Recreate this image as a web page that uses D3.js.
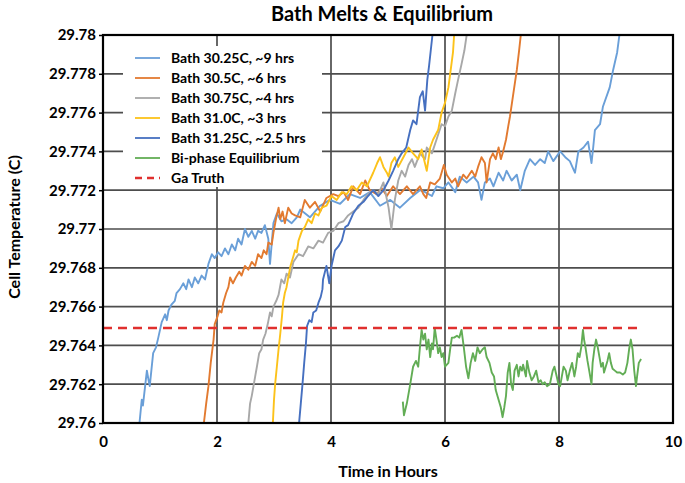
<!DOCTYPE html>
<html lang="en">
<head>
<meta charset="UTF-8">
<title>Bath Melts & Equilibrium</title>
<script src="https://cdn.jsdelivr.net/npm/d3@7"></script>
<style>
  body { margin: 0; background: #fff; }
  text { font-family: Lato, "Open Sans", sans-serif; font-weight: bold; fill: #000; }
</style>
</head>
<body>
<svg id="chart"></svg>
<script>
var xTicks = [0, 2, 4, 6, 8, 10];
var yTicks = [29.76, 29.762, 29.764, 29.766, 29.768, 29.77, 29.772, 29.774, 29.776, 29.778, 29.78];
var seriesNames = ['Bath 30.25C, ~9 hrs', 'Bath 30.5C, ~6 hrs', 'Bath 30.75C, ~4 hrs',
  'Bath 31.0C, ~3 hrs', 'Bath 31.25C, ~2.5 hrs', 'Bi-phase Equilibrium', 'Ga Truth'];
var seriesColors = ['#6a9fd8', '#e27a30', '#a8a8a8', '#fcc21a', '#4670c0', '#62ad55', '#e0302e'];

// [hours, cell temperature C]
var bath3025 = [[0.64,29.7600],[0.68,29.7612],[0.70,29.7609],[0.77,29.7627],[0.80,29.7622],[0.82,29.7619],
  [0.88,29.7636],[0.93,29.7639],[0.97,29.7644],[1.03,29.7652],[1.09,29.7656],[1.12,29.7653],[1.15,29.7658],
  [1.20,29.7661],[1.26,29.7663],[1.29,29.7667],[1.35,29.7669],[1.41,29.7672],[1.46,29.7669],[1.50,29.7674],
  [1.56,29.7670],[1.61,29.7675],[1.67,29.7672],[1.73,29.7676],[1.79,29.7674],[1.85,29.7682],[1.91,29.7687],
  [1.96,29.7685],[2.02,29.7688],[2.08,29.7686],[2.14,29.7690],[2.20,29.7687],[2.26,29.7692],[2.32,29.7689],
  [2.37,29.7695],[2.43,29.7692],[2.49,29.7700],[2.55,29.7696],[2.61,29.7699],[2.67,29.7695],[2.72,29.7699],
  [2.78,29.7698],[2.84,29.7702],[2.90,29.7695],[2.93,29.7682],[2.99,29.7703],[3.05,29.7708],[3.13,29.7704],
  [3.22,29.7705],[3.31,29.7703],[3.40,29.7706],[3.46,29.7710],[3.63,29.7706],[3.81,29.7712],[3.98,29.7715],
  [4.16,29.7713],[4.33,29.7718],[4.51,29.7716],[4.68,29.7719],[4.86,29.7712],[5.04,29.7715],[5.21,29.7711],
  [5.39,29.7716],[5.56,29.7720],[5.65,29.7719],[5.77,29.7717],[5.85,29.7722],[5.97,29.7721],[6.06,29.7724],
  [6.18,29.7719],[6.26,29.7727],[6.38,29.7724],[6.50,29.7727],[6.58,29.7724],[6.64,29.7715],[6.70,29.7724],
  [6.79,29.7726],[6.85,29.7722],[6.94,29.7729],[7.02,29.7725],[7.08,29.7730],[7.17,29.7725],[7.26,29.7728],
  [7.32,29.7720],[7.40,29.7730],[7.49,29.7736],[7.58,29.7733],[7.67,29.7736],[7.75,29.7734],[7.81,29.7740],
  [7.90,29.7735],[8.02,29.7740],[8.11,29.7737],[8.19,29.7735],[8.25,29.7731],[8.28,29.7729],[8.34,29.7740],
  [8.43,29.7742],[8.51,29.7745],[8.57,29.7734],[8.60,29.7742],[8.63,29.7751],[8.72,29.7754],[8.77,29.7763],
  [8.89,29.7773],[8.95,29.7782],[9.02,29.7791],[9.06,29.7800]];

var bath305 = [[1.77,29.7600],[1.81,29.7610],[1.85,29.7619],[1.89,29.7631],[1.94,29.7643],[1.96,29.7651],
  [2.01,29.7655],[2.04,29.7658],[2.08,29.7657],[2.11,29.7662],[2.16,29.7667],[2.20,29.7670],[2.23,29.7675],
  [2.28,29.7672],[2.33,29.7675],[2.39,29.7678],[2.43,29.7676],[2.49,29.7681],[2.55,29.7679],[2.61,29.7683],
  [2.67,29.7681],[2.72,29.7687],[2.78,29.7685],[2.82,29.7689],[2.87,29.7687],[2.90,29.7693],[2.96,29.7692],
  [2.99,29.7698],[3.04,29.7706],[3.08,29.7711],[3.11,29.7705],[3.15,29.7709],[3.19,29.7703],[3.25,29.7711],
  [3.31,29.7708],[3.37,29.7707],[3.46,29.7706],[3.54,29.7715],[3.63,29.7711],[3.72,29.7714],[3.81,29.7709],
  [3.92,29.7716],[4.04,29.7718],[4.13,29.7717],[4.22,29.7719],[4.30,29.7715],[4.39,29.7722],[4.51,29.7718],
  [4.60,29.7725],[4.68,29.7720],[4.80,29.7718],[4.89,29.7721],[4.98,29.7717],[5.09,29.7722],[5.21,29.7718],
  [5.33,29.7722],[5.44,29.7718],[5.56,29.7722],[5.62,29.7718],[5.67,29.7716],[5.74,29.7724],[5.82,29.7723],
  [5.91,29.7726],[5.98,29.7733],[6.03,29.7728],[6.12,29.7724],[6.18,29.7726],[6.23,29.7722],[6.32,29.7728],
  [6.38,29.7726],[6.47,29.7730],[6.53,29.7727],[6.58,29.7732],[6.64,29.7737],[6.70,29.7734],[6.73,29.7724],
  [6.79,29.7736],[6.84,29.7739],[6.89,29.7736],[6.94,29.7742],[6.98,29.7736],[7.02,29.7740],[7.07,29.7746],
  [7.11,29.7753],[7.14,29.7758],[7.20,29.7770],[7.26,29.7782],[7.30,29.7792],[7.33,29.7800]];

var bath3075 = [[2.55,29.7600],[2.58,29.7610],[2.61,29.7614],[2.64,29.7619],[2.67,29.7624],[2.70,29.7629],
  [2.74,29.7636],[2.78,29.7638],[2.81,29.7643],[2.85,29.7646],[2.89,29.7651],[2.93,29.7657],[2.96,29.7655],
  [2.99,29.7660],[3.04,29.7663],[3.08,29.7666],[3.13,29.7674],[3.18,29.7672],[3.22,29.7677],[3.28,29.7675],
  [3.34,29.7683],[3.43,29.7687],[3.51,29.7686],[3.60,29.7691],[3.69,29.7690],[3.78,29.7694],[3.86,29.7693],
  [3.95,29.7698],[4.04,29.7699],[4.13,29.7703],[4.22,29.7704],[4.30,29.7707],[4.39,29.7709],[4.48,29.7711],
  [4.57,29.7715],[4.65,29.7718],[4.74,29.7720],[4.83,29.7718],[4.92,29.7724],[5.01,29.7711],[5.06,29.7700],
  [5.12,29.7715],[5.18,29.7725],[5.24,29.7730],[5.30,29.7727],[5.36,29.7733],[5.42,29.7736],[5.47,29.7732],
  [5.56,29.7739],[5.65,29.7736],[5.68,29.7742],[5.77,29.7739],[5.85,29.7746],[5.94,29.7754],[6.00,29.7753],
  [6.06,29.7758],[6.12,29.7761],[6.18,29.7770],[6.23,29.7777],[6.29,29.7785],[6.34,29.7792],[6.38,29.7800]];

var bath310 = [[2.98,29.7600],[3.00,29.7612],[3.02,29.7620],[3.05,29.7629],[3.08,29.7638],[3.11,29.7646],
  [3.14,29.7655],[3.16,29.7662],[3.19,29.7667],[3.22,29.7670],[3.25,29.7675],[3.29,29.7681],[3.34,29.7686],
  [3.37,29.7689],[3.40,29.7688],[3.43,29.7694],[3.49,29.7699],[3.54,29.7701],[3.60,29.7705],[3.66,29.7703],
  [3.72,29.7708],[3.78,29.7707],[3.84,29.7711],[3.92,29.7712],[4.01,29.7717],[4.10,29.7715],[4.19,29.7719],
  [4.28,29.7718],[4.36,29.7722],[4.45,29.7720],[4.54,29.7724],[4.63,29.7722],[4.74,29.7729],[4.81,29.7734],
  [4.86,29.7737],[4.92,29.7732],[4.98,29.7729],[5.01,29.7727],[5.06,29.7734],[5.12,29.7737],[5.18,29.7732],
  [5.27,29.7737],[5.36,29.7742],[5.44,29.7739],[5.53,29.7736],[5.59,29.7741],[5.68,29.7730],[5.74,29.7742],
  [5.79,29.7746],[5.88,29.7751],[5.94,29.7760],[6.00,29.7765],[6.06,29.7773],[6.10,29.7782],[6.14,29.7791],
  [6.16,29.7800]];

var bath3125 = [[3.44,29.7600],[3.47,29.7610],[3.50,29.7620],[3.53,29.7631],[3.56,29.7641],[3.58,29.7650],
  [3.62,29.7653],[3.66,29.7652],[3.69,29.7657],[3.74,29.7658],[3.78,29.7662],[3.82,29.7665],[3.85,29.7669],
  [3.86,29.7674],[3.92,29.7681],[3.97,29.7672],[4.01,29.7681],[4.07,29.7689],[4.13,29.7691],[4.19,29.7694],
  [4.25,29.7701],[4.30,29.7702],[4.36,29.7706],[4.39,29.7708],[4.48,29.7712],[4.57,29.7714],[4.65,29.7717],
  [4.74,29.7720],[4.83,29.7717],[4.92,29.7720],[5.01,29.7725],[5.09,29.7730],[5.18,29.7736],[5.24,29.7739],
  [5.32,29.7742],[5.39,29.7751],[5.44,29.7756],[5.50,29.7754],[5.56,29.7768],[5.61,29.7771],[5.65,29.7761],
  [5.69,29.7777],[5.72,29.7784],[5.75,29.7792],[5.78,29.7800]];

var biphase = [[5.26,29.7611],[5.28,29.7604],[5.33,29.7610],[5.39,29.7620],[5.44,29.7629],[5.49,29.7632],
  [5.53,29.7629],[5.56,29.7639],[5.59,29.7648],[5.62,29.7643],[5.65,29.7646],[5.68,29.7638],[5.71,29.7643],
  [5.74,29.7634],[5.77,29.7641],[5.79,29.7638],[5.82,29.7649],[5.85,29.7643],[5.88,29.7636],[5.91,29.7639],
  [5.94,29.7634],[5.97,29.7636],[6.00,29.7629],[6.06,29.7631],[6.09,29.7638],[6.12,29.7644],[6.16,29.7644],
  [6.21,29.7645],[6.25,29.7644],[6.29,29.7648],[6.33,29.7639],[6.37,29.7629],[6.41,29.7623],[6.45,29.7631],
  [6.49,29.7636],[6.53,29.7632],[6.57,29.7639],[6.61,29.7636],[6.66,29.7638],[6.70,29.7639],[6.73,29.7634],
  [6.78,29.7631],[6.82,29.7626],[6.86,29.7624],[6.89,29.7617],[6.94,29.7612],[6.98,29.7608],[7.01,29.7603],
  [7.04,29.7608],[7.07,29.7614],[7.10,29.7626],[7.13,29.7631],[7.16,29.7620],[7.19,29.7617],[7.22,29.7627],
  [7.26,29.7630],[7.29,29.7624],[7.32,29.7629],[7.35,29.7627],[7.37,29.7630],[7.42,29.7624],[7.44,29.7632],
  [7.48,29.7626],[7.52,29.7622],[7.56,29.7624],[7.60,29.7627],[7.64,29.7621],[7.68,29.7622],[7.71,29.7620],
  [7.75,29.7621],[7.79,29.7619],[7.84,29.7620],[7.89,29.7627],[7.92,29.7629],[7.96,29.7624],[7.99,29.7620],
  [8.02,29.7619],[8.05,29.7624],[8.08,29.7629],[8.12,29.7627],[8.15,29.7622],[8.19,29.7627],[8.23,29.7631],
  [8.27,29.7624],[8.30,29.7629],[8.33,29.7636],[8.36,29.7634],[8.39,29.7639],[8.42,29.7648],[8.44,29.7643],
  [8.47,29.7638],[8.50,29.7632],[8.53,29.7627],[8.57,29.7620],[8.59,29.7631],[8.62,29.7638],[8.65,29.7643],
  [8.68,29.7639],[8.71,29.7634],[8.74,29.7629],[8.77,29.7631],[8.79,29.7626],[8.82,29.7629],[8.85,29.7632],
  [8.88,29.7636],[8.91,29.7631],[8.94,29.7628],[8.98,29.7627],[9.02,29.7626],[9.07,29.7626],[9.12,29.7625],
  [9.16,29.7626],[9.20,29.7631],[9.23,29.7638],[9.26,29.7643],[9.29,29.7638],[9.32,29.7627],[9.35,29.7619],
  [9.37,29.7624],[9.40,29.7631],[9.44,29.7633]];

var gaTruth = [[0, 29.7649], [9.45, 29.7649]];

var allSeries = [bath3025, bath305, bath3075, bath310, bath3125, biphase, gaTruth];

var width = 685, height = 483;
var margin = {top: 35, right: 12, bottom: 60, left: 103};
var plotW = width - margin.left - margin.right;
var plotH = height - margin.top - margin.bottom;

var svg = d3.select('#chart').attr('width', width).attr('height', height);

var x = d3.scaleLinear().domain([0, 10]).range([0, plotW]);
var y = d3.scaleLinear().domain([29.76, 29.78]).range([plotH, 0]);

svg.append('text')
  .attr('x', margin.left + plotW / 2 - 6)
  .attr('y', 21)
  .attr('text-anchor', 'middle')
  .style('font-size', '20px')
  .text('Bath Melts & Equilibrium');

var g = svg.append('g').attr('transform', 'translate(' + margin.left + ',' + margin.top + ')');

g.append('clipPath').attr('id', 'clip')
  .append('rect').attr('width', plotW).attr('height', plotH);

// gridlines
g.selectAll('.hgrid').data(yTicks).enter().append('line')
  .attr('x1', 0).attr('x2', plotW)
  .attr('y1', function(d) { return y(d); }).attr('y2', function(d) { return y(d); })
  .attr('stroke', '#4d4d4d').attr('stroke-width', 1.7);
g.selectAll('.vgrid').data(xTicks).enter().append('line')
  .attr('y1', 0).attr('y2', plotH)
  .attr('x1', function(d) { return x(d); }).attr('x2', function(d) { return x(d); })
  .attr('stroke', '#4d4d4d').attr('stroke-width', 1.7);

// axes
var yAxis = d3.axisLeft(y).tickValues(yTicks).tickSize(4).tickPadding(3).tickFormat(d3.format('.3~f'));
var xAxis = d3.axisBottom(x).tickValues(xTicks).tickSize(0).tickPadding(13).tickFormat(d3.format('d'));
var ya = g.append('g').call(yAxis);
var xa = g.append('g').attr('transform', 'translate(0,' + plotH + ')').call(xAxis);
[ya, xa].forEach(function(a) {
  a.select('.domain').remove();
  a.selectAll('line').attr('stroke', '#000').attr('stroke-width', 1.5);
  a.selectAll('text').style('font-size', '15px').style('font-family', 'Lato, sans-serif').attr('fill', '#000');
});

// legend box (drawn before data, over gridlines)
var legX = 20, legY = 11, legW = 199, legH = 141;
g.append('rect').attr('x', legX).attr('y', legY).attr('width', legW).attr('height', legH).attr('fill', '#fff');

var line = d3.line()
  .x(function(d) { return x(d[0]); })
  .y(function(d) { return y(d[1]); });

var plot = g.append('g').attr('clip-path', 'url(#clip)');
allSeries.forEach(function(s, i) {
  var p = plot.append('path')
    .datum(s)
    .attr('d', line)
    .attr('fill', 'none')
    .attr('stroke', seriesColors[i])
    .attr('stroke-width', i === 6 ? 2.6 : 1.9)
    .attr('stroke-linejoin', 'round');
  if (i === 6) p.attr('stroke-dasharray', '9,6');
});

// legend entries
var leg = g.selectAll('.leg').data(seriesNames).enter().append('g')
  .attr('transform', function(d, i) { return 'translate(' + (legX + 12) + ',' + (legY + 12 + i * 20) + ')'; });
leg.append('line')
  .attr('x1', 0).attr('x2', 25).attr('y1', 0).attr('y2', 0)
  .attr('stroke', function(d, i) { return seriesColors[i]; })
  .attr('stroke-width', function(d, i) { return i === 6 ? 2.6 : 1.8; })
  .attr('stroke-dasharray', function(d, i) { return i === 6 ? '7,5' : null; });
leg.append('text')
  .attr('x', 36).attr('y', 5)
  .style('font-size', '14px')
  .text(function(d) { return d; });

// plot border
g.append('rect').attr('width', plotW).attr('height', plotH)
  .attr('fill', 'none').attr('stroke', '#000').attr('stroke-width', 2.2);

// axis titles
svg.append('text')
  .attr('x', margin.left + plotW / 2)
  .attr('y', 477)
  .attr('text-anchor', 'middle')
  .style('font-size', '16px')
  .text('Time in Hours');
svg.append('text')
  .attr('transform', 'translate(20,' + (margin.top + plotH / 2 - 2) + ') rotate(-90)')
  .attr('text-anchor', 'middle')
  .style('font-size', '16px')
  .text('Cell Temperature (C)');
</script>
</body>
</html>
